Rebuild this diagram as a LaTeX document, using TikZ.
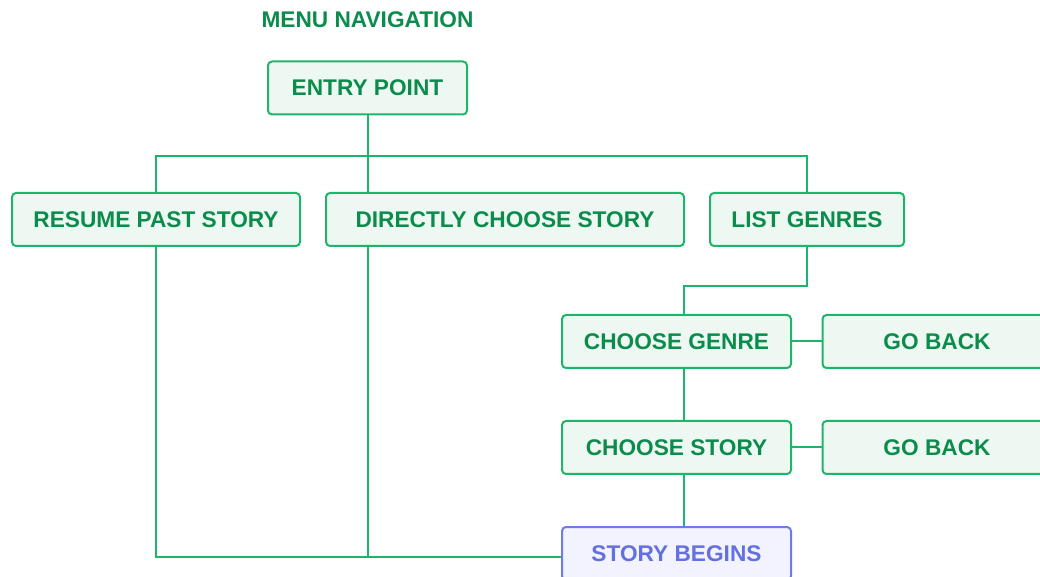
\documentclass[tikz,border=0pt]{standalone}
\usepackage{fontspec}
\setmainfont{Liberation Sans}
\usepackage{xcolor}
\usetikzlibrary{positioning,calc}

\definecolor{menuline}{HTML}{1DB56A}
\definecolor{menutext}{HTML}{0B8C4C}
\definecolor{menufill}{HTML}{EEF8F2}
\definecolor{startline}{HTML}{6F7BE8}
\definecolor{starttext}{HTML}{6470E0}
\definecolor{startfill}{HTML}{F2F3FE}

\tikzset{
    menubox/.style={draw=menuline, fill=menufill, text=menutext, line width=1.5pt,
        rounded corners=3pt, minimum height=39.75pt, inner sep=0pt,
        font=\fontsize{17}{20}\selectfont\bfseries},
    startbox/.style={menubox, draw=startline, fill=startfill, text=starttext},
    link/.style={draw=menuline, line width=1.5pt}
}

\begin{document}
\begin{tikzpicture}[x=0.75pt, y=-0.75pt]
    \clip (0,0) rectangle (1040,577);

    % Title
    \node[text=menutext, font=\fontsize{17}{20}\selectfont\bfseries] (title) at (367.5,20) {MENU NAVIGATION};

    % Boxes
    \node[menubox, minimum width=149.25pt] (entry) at (367.5,88) {ENTRY POINT};
    \node[menubox, minimum width=216pt] (resume) at (156,219.5) {RESUME PAST STORY};
    \node[menubox, minimum width=268.5pt] (direct) at (505,219.5) {DIRECTLY CHOOSE STORY};
    \node[menubox, minimum width=145.5pt] (genres) at (807,219.5) {LIST GENRES};
    \node[menubox, minimum width=171.75pt] (chgenre) at (676.5,341.5) {CHOOSE GENRE};
    \node[menubox, minimum width=171.75pt] (back1) at (937,341.5) {GO BACK};
    \node[menubox, minimum width=171.75pt] (chstory) at (676.5,447.5) {CHOOSE STORY};
    \node[menubox, minimum width=171.75pt] (back2) at (937,447.5) {GO BACK};
    \node[startbox, minimum width=171.75pt] (begins) at (676.5,553.5) {STORY BEGINS};

    % Entry split
    \draw[link] (entry.south) -- ++(0,41) coordinate (split);
    \draw[link] (resume.north) |- (split) -| (genres.north);
    \draw[link] (split) -- (split |- direct.north);

    % Genre branch
    \coordinate (spine) at (684,0);
    \draw[link] (genres.south) -- ++(0,39) -| (spine |- chgenre.north);
    \draw[link] (spine |- chgenre.south) -- (spine |- chstory.north);
    \draw[link] (spine |- chstory.south) -- (spine |- begins.north);
    \draw[link] (chgenre) -- (back1);
    \draw[link] (chstory) -- (back2);

    % Direct paths to the story
    \draw[link] (resume.south) |- ($(begins.west)+(0,3.5)$);
    \draw[link] (split |- direct.south) -- ($(split |- begins.west)+(0,3.5)$);
\end{tikzpicture}
\end{document}
